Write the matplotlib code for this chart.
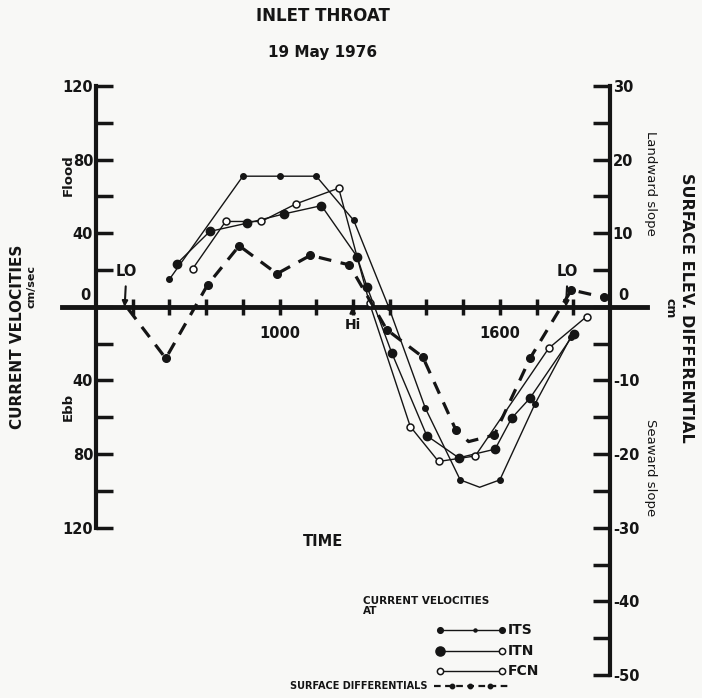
import matplotlib
matplotlib.use("Agg")
import matplotlib.pyplot as plt
from matplotlib.lines import Line2D

# time in decimal hours, velocities in cm/sec (flood +, ebb -)
its_t = [7.0, 9.0, 10.0, 11.0, 12.02, 12.97, 13.97, 14.92, 15.45, 16.0, 16.95, 17.93]
its_v = [15, 71, 71, 71, 47, 0, -55, -94, -98, -94, -53, -16.5]
its_dots = [0, 1, 2, 3, 4, 5, 6, 7, 9, 10, 11]

itn_t = [7.2, 8.1, 9.12, 10.12, 11.14, 12.11, 12.38, 13.06, 14.01, 14.88, 15.87, 16.32, 16.82, 18.02]
itn_v = [23.4, 41, 45.5, 50.5, 55, 27.3, 11, -25.2, -70, -82, -77.3, -60.5, -49.6, -14.5]

fcn_t = [7.63, 8.53, 9.5, 10.45, 11.61, 12.45, 13.56, 14.33, 15.33, 17.33, 18.36]
fcn_v = [20.6, 46.4, 46.4, 56, 64.5, 2, -65, -84, -81, -22.5, -5.3]

# surface elevation differential, cm
sd_t = [5.88, 6.9, 8.04, 8.9, 9.93, 10.84, 11.9, 12.92, 13.9, 14.8, 15.15, 15.85, 16.82, 17.95, 18.83]
sd_v = [-0.3, -7.0, 3.0, 8.3, 4.5, 7.0, 5.7, -3.1, -6.8, -16.7, -18.3, -17.4, -7.0, 2.3, 1.3]
sd_dots = [1, 2, 3, 4, 5, 6, 7, 8, 9, 11, 12, 13, 14]

hour_ticks = list(range(6, 19))
hour_labels = {10: "1000", 16: "1600"}
vel_major = [-120, -80, -40, 0, 40, 80, 120]
vel_minor = [-100, -60, -20, 20, 60, 100]
sd_major = [-50, -40, -30, -20, -10, 0, 10, 20, 30]
sd_minor = [-45, -35, -25, -15, -5, 5, 15, 25]
lo_times = [5.78, 17.8]
hi_time = 11.98

ink = "#151515"
W, H = 702, 698


def px(x, y):
    return x / W, 1 - y / H


fig = plt.figure(figsize=(W / 100, H / 100), dpi=100)
fig.patch.set_facecolor("#f8f8f6")

ax = fig.add_axes([96 / W, 1 - 675 / H, 514 / W, 589 / H])
ax.set_facecolor("none")
ax.set_xlim(5, 19)
ax.set_ylim(-200, 120)
ax2 = ax.twinx()
ax2.set_ylim(-50, 30)

for s in ["top", "right", "bottom"]:
    ax.spines[s].set_visible(False)
ax.spines["left"].set_bounds(-120, 120)
ax.spines["left"].set_linewidth(3)
ax.spines["left"].set_color(ink)
for s in ["top", "left", "bottom"]:
    ax2.spines[s].set_visible(False)
ax2.spines["right"].set_bounds(-50, 30)
ax2.spines["right"].set_linewidth(3)
ax2.spines["right"].set_color(ink)

# horizontal time axis through zero
ax.spines["bottom"].set_position(("data", 0))
ax.axhline(0, xmin=(4.07 - 5) / 14, xmax=(20.0 - 5) / 14, color=ink, lw=3.5,
           clip_on=False, zorder=3)
ax.set_xticks(hour_ticks)
ax.set_xticklabels([hour_labels.get(h, "") for h in hour_ticks])
ax.tick_params(axis="x", direction="inout", length=11, width=2.5, color=ink,
               pad=8, labelsize=10.5)

# left velocity axis
ax.set_yticks(vel_major)
ax.set_yticklabels([("" if v == 0 else str(abs(v))) for v in vel_major])
ax.set_yticks(vel_minor, minor=True)
ax.tick_params(axis="y", which="both", direction="in", length=12, width=2.5,
               color=ink, pad=2, labelsize=10.5)
ax.annotate("0", xy=(5, 0), xytext=(-4, 3), textcoords="offset points",
            ha="right", va="bottom", fontsize=10.5, fontweight="bold", color=ink)

# right differential axis
ax2.set_yticks(sd_major)
ax2.set_yticklabels([("" if v == 0 else str(v)) for v in sd_major])
ax2.set_yticks(sd_minor, minor=True)
ax2.tick_params(axis="y", which="both", direction="in", length=12, width=2.5,
                color=ink, pad=2, labelsize=10.5)
ax2.annotate("0", xy=(19, 0), xytext=(6, 3), textcoords="offset points",
             ha="left", va="bottom", fontsize=10.5, fontweight="bold", color=ink)
for lab in ax.get_xticklabels() + ax.get_yticklabels() + ax2.get_yticklabels():
    lab.set_fontweight("bold")
    lab.set_color(ink)

# curves
ax.plot(its_t, its_v, color=ink, lw=1.0, marker="o", ms=4, markevery=its_dots,
        zorder=4)
ax.plot(itn_t, itn_v, color=ink, lw=1.0, marker="o", ms=6, zorder=4)
ax.plot(fcn_t, fcn_v, color=ink, lw=1.0, marker="o", ms=5, mfc="white",
        mec=ink, mew=1.1, zorder=5)
ax2.plot(sd_t, sd_v, color=ink, lw=2.3, ls=(0, (4, 3)), marker="o", ms=5.5,
         markevery=sd_dots, zorder=4)

# tide markers
for t in lo_times:
    ax.annotate("LO", xy=(t, 0), xytext=(t + 0.05, 19), ha="center", va="center",
                fontsize=10.5, fontweight="bold", color=ink,
                arrowprops=dict(arrowstyle="-|>", color=ink, lw=1.5,
                                shrinkA=3, shrinkB=0, mutation_scale=8))
ax.annotate("Hi", xy=(hi_time, 0), xytext=(hi_time + 0.03, -10), ha="center",
            va="center", fontsize=10, fontweight="bold", color=ink,
            arrowprops=dict(arrowstyle="-|>", color=ink, lw=1.5,
                            shrinkA=3, shrinkB=0, mutation_scale=8))

# titles and axis labels
fig.text(*px(323, 16), "INLET THROAT", ha="center", va="center", fontsize=12,
         fontweight="bold", color=ink)
fig.text(*px(323, 52), "19 May 1976", ha="center", va="center", fontsize=11,
         fontweight="bold", color=ink)
fig.text(*px(18, 337), "CURRENT VELOCITIES", rotation=90, ha="center",
         va="center", fontsize=11, fontweight="bold", color=ink)
fig.text(*px(32, 286), "cm/sec", rotation=90, ha="center", va="center",
         fontsize=8, fontweight="bold", color=ink)
fig.text(*px(68, 175), "Flood", rotation=90, ha="center", va="center",
         fontsize=9.5, fontweight="bold", color=ink)
fig.text(*px(68, 407), "Ebb", rotation=90, ha="center", va="center",
         fontsize=9.5, fontweight="bold", color=ink)
fig.text(*px(687, 308), "SURFACE ELEV. DIFFERENTIAL", rotation=270,
         ha="center", va="center", fontsize=11.5, fontweight="bold", color=ink)
fig.text(*px(670, 308), "cm", rotation=270, ha="center", va="center",
         fontsize=9, fontweight="bold", color=ink)
fig.text(*px(650, 183), "Landward slope", rotation=270, ha="center",
         va="center", fontsize=9.5, color=ink)
fig.text(*px(650, 468), "Seaward slope", rotation=270, ha="center",
         va="center", fontsize=9.5, color=ink)
fig.text(*px(323, 542), "TIME", ha="center", va="center", fontsize=10.5,
         fontweight="bold", color=ink)

# hand-drawn style key
fig.text(*px(363, 601), "CURRENT VELOCITIES", ha="left", va="center",
         fontsize=7.5, fontweight="bold", color=ink)
fig.text(*px(363, 611), "AT", ha="left", va="center", fontsize=7.5,
         fontweight="bold", color=ink)
key = [("ITS", 630, 4, ink, 4, ink), ("ITN", 651, 6.5, ink, 4.5, "white"),
       ("FCN", 671, 4.5, "white", 4.5, "white")]
for name, y, ms1, fc1, ms2, fc2 in key:
    x0, y0 = px(440, y)
    x1, _ = px(502, y)
    fig.add_artist(Line2D([x0, x1], [y0, y0], color=ink, lw=1.0))
    fig.add_artist(Line2D([x0], [y0], marker="o", ms=ms1, mfc=fc1, mec=ink,
                          mew=1.1, ls="none"))
    fig.add_artist(Line2D([x1], [y0], marker="o", ms=ms2, mfc=fc2, mec=ink,
                          mew=1.1, ls="none"))
    fig.text(*px(508, y), name, ha="left", va="center", fontsize=10,
             fontweight="bold", color=ink)
xm, ym = px(475, 630)
fig.add_artist(Line2D([xm], [ym], marker="o", ms=2.2, color=ink, ls="none"))
fig.text(*px(428, 686), "SURFACE DIFFERENTIALS", ha="right", va="center",
         fontsize=7, fontweight="bold", color=ink)
xa, ya = px(434, 686)
xb, _ = px(510, 686)
fig.add_artist(Line2D([xa, xb], [ya, ya], color=ink, lw=1.6, ls=(0, (3, 2))))
fig.add_artist(Line2D([px(452, 0)[0], px(470, 0)[0], px(490, 0)[0]], [ya] * 3,
                      marker="o", ms=3.2, color=ink, ls="none"))

fig.savefig("out.png", dpi=100, facecolor=fig.get_facecolor())
